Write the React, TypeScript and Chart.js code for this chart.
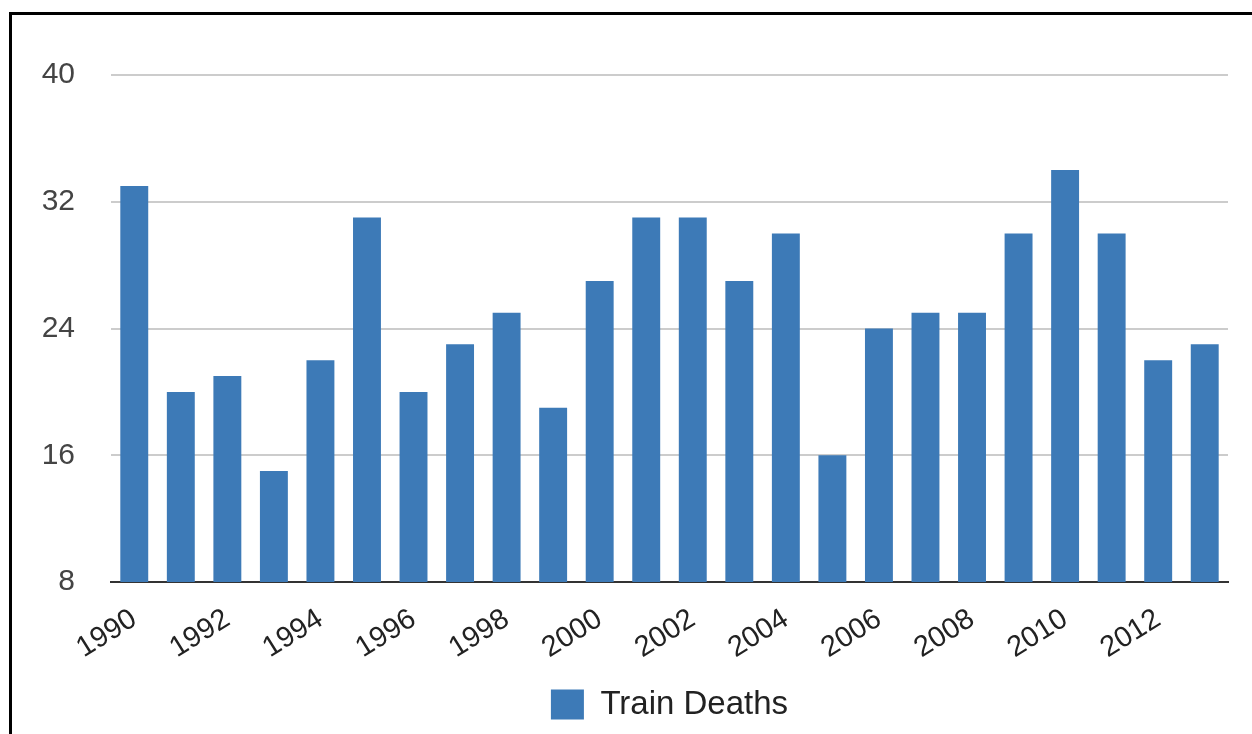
import React, { useEffect, useRef } from "react";
import { Chart, registerables } from "chart.js";

Chart.register(...registerables);

const years = [
  "1990", "1991", "1992", "1993", "1994", "1995", "1996", "1997", "1998", "1999",
  "2000", "2001", "2002", "2003", "2004", "2005", "2006", "2007", "2008", "2009",
  "2010", "2011", "2012", "2013",
];
const trainDeaths = [33, 20, 21, 15, 22, 31, 20, 23, 25, 19, 27, 31, 31, 27, 30, 16, 24, 25, 25, 30, 34, 30, 22, 23];
const seriesLabel = "Train Deaths";
const yMin = 8;
const yMax = 40;
const yStep = 8;

export default function App() {
  const ref = useRef<HTMLCanvasElement | null>(null);

  useEffect(() => {
    if (!ref.current) return;
    const font = "'Liberation Sans', Arial, sans-serif";
    const chart = new Chart(ref.current, {
      type: "bar",
      data: {
        labels: years,
        datasets: [
          {
            label: seriesLabel,
            data: trainDeaths,
            backgroundColor: "#3d7ab7",
            borderWidth: 0,
            categoryPercentage: 1,
            barPercentage: 0.6,
          },
        ],
      },
      options: {
        animation: false,
        responsive: false,
        maintainAspectRatio: false,
        layout: { padding: { top: 60, right: 24, bottom: 3, left: 0 } },
        plugins: {
          legend: {
            position: "bottom",
            fullSize: false,
            labels: {
              boxWidth: 33,
              boxHeight: 30,
              color: "#222",
              font: { family: font, size: 33 },
              padding: 10,
            },
          },
          tooltip: { enabled: false },
        },
        scales: {
          x: {
            grid: { display: false, drawTicks: false },
            border: { display: true, color: "#333", width: 2 },
            ticks: {
              autoSkip: false,
              minRotation: 32,
              maxRotation: 32,
              padding: 20,
              color: "#222",
              font: { family: font, size: 29 },
              callback: (_v: any, i: number) => (i % 2 === 0 ? years[i] : ""),
            },
            afterFit: (s: any) => {
              s.height = 96;
            },
          },
          y: {
            min: yMin,
            max: yMax,
            grid: { color: "#cccccc", lineWidth: 2, drawTicks: false },
            border: { display: false },
            ticks: {
              stepSize: yStep,
              padding: 36,
              color: "#444",
              font: { family: font, size: 30 },
            },
            afterFit: (s: any) => {
              s.width = 99;
            },
          },
        },
      },
    });
    return () => chart.destroy();
  }, []);

  return (
    <div style={{ position: "fixed", inset: 0, overflow: "hidden", background: "#fff" }}>
      <div
        style={{
          position: "absolute",
          left: 9,
          top: 12,
          width: 1400,
          height: 900,
          borderLeft: "3px solid #000",
          borderTop: "3px solid #000",
        }}
      />
      <canvas
        ref={ref}
        width={1240}
        height={719}
        style={{ position: "absolute", left: 12, top: 15, width: 1240, height: 719 }}
      />
    </div>
  );
}
